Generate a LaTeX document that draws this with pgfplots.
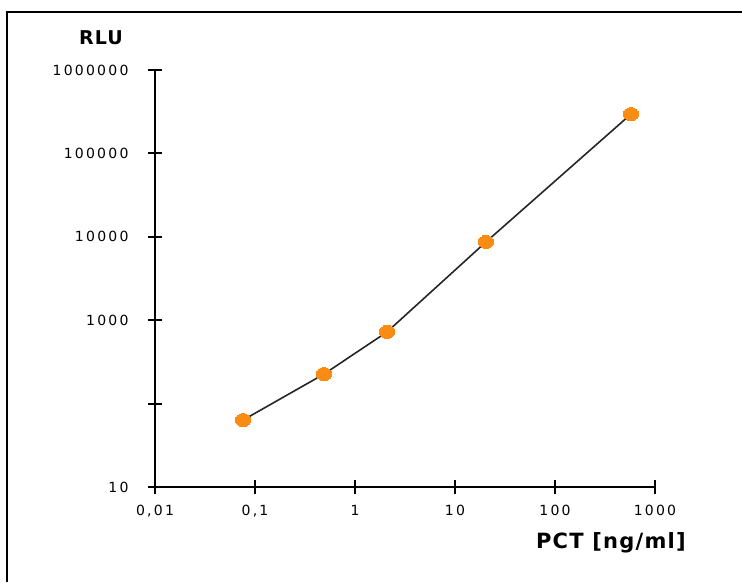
\documentclass[border=0pt]{standalone}
\usepackage{fontspec}
\usepackage{pgfplots}
\pgfplotsset{compat=1.18}
\newfontfamily\tickfont[LetterSpace=16]{DejaVu Sans}
\newfontfamily\labfont[LetterSpace=6]{DejaVu Sans Bold}
\definecolor{mk}{RGB}{250,140,20}
\begin{document}
\begin{tikzpicture}[x=1pt,y=1pt]
\path[use as bounding box] (0,0) rectangle (742,582);
\draw[line width=2pt] (7,0) -- (7,570) -- (742,570);
\begin{axis}[
  at={(155pt,95pt)}, anchor=south west,
  scale only axis, width=500pt, height=417pt,
  xmode=log, ymode=log,
  xmin=0.01, xmax=1000, ymin=10, ymax=1000000,
  axis x line*=bottom, axis y line*=left,
  axis line style={line width=2pt},
  xtick={0.01,0.1,1,10,100,1000},
  xticklabels={{0,01},{0,1},{1},{10},{100},{1000}},
  ytick={10,100,1000,10000,100000,1000000},
  yticklabels={{10},{},{1000},{10000},{100000},{1000000}},
  minor xtick={}, minor ytick={},
  tick align=center, major tick length=14pt,
  major tick style={line width=1.8pt, black},
  ticklabel style={font=\tickfont\fontsize{14}{16}\selectfont},
  xticklabel style={yshift=-8pt},
  yticklabel style={xshift=-16pt},
  clip=false,
]
\addplot[black!85, line width=1.6pt, mark=*, mark size=6.5pt,
  mark options={fill=mk, draw=mk, line width=0pt, xscale=1.2}]
  coordinates {(0.076,63.5) (0.49,226) (2.09,723) (20.4,8670) (575,296000)};
\end{axis}
\node[anchor=base, font=\labfont\fontsize{19}{22}\selectfont] at (101,537) {RLU};
\node[anchor=base east, font=\labfont\fontsize{21}{24}\selectfont, inner sep=0pt] at (686,34) {PCT [ng/ml]};
\end{tikzpicture}
\end{document}
